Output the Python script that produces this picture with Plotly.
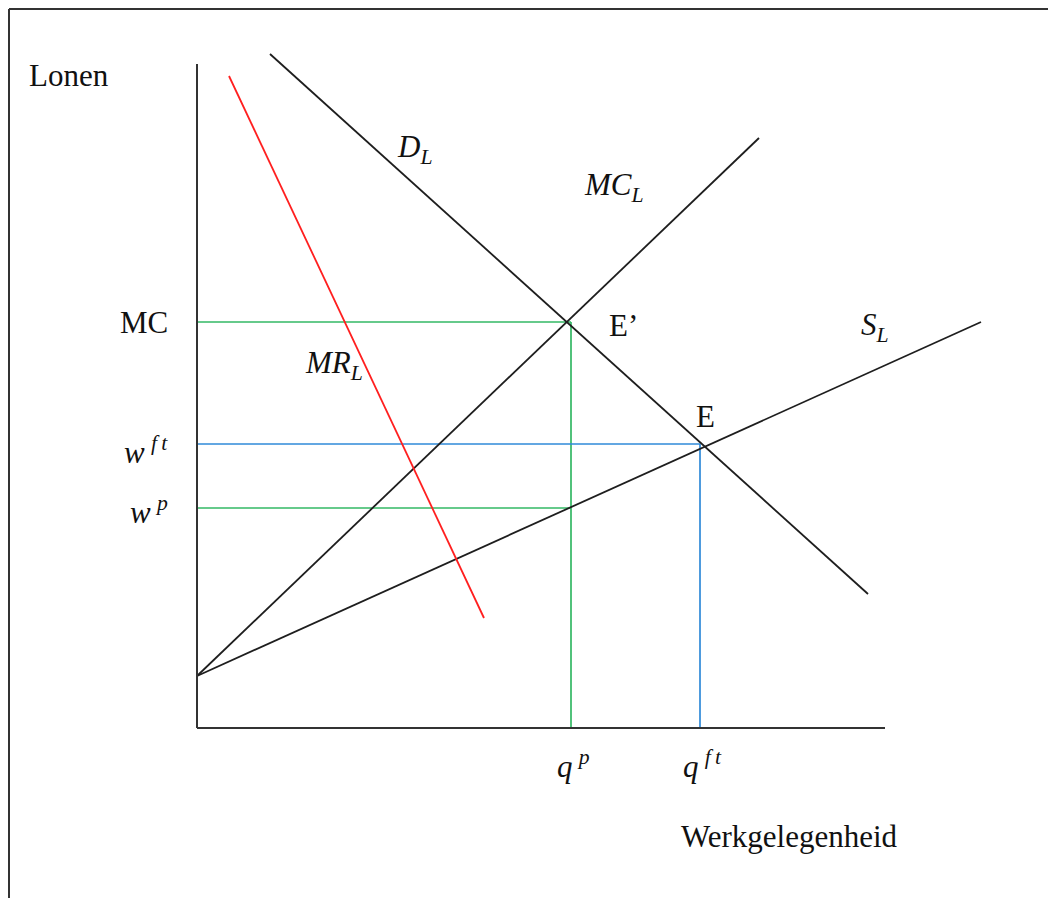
import plotly.graph_objects as go

# ---- data (coordinates in chart units: x = employment, y = wage) ----
supply_x = [0, 784]          # S_L
supply_y = [52, 406]
mc_x = [0, 562]              # MC_L
mc_y = [52, 590]
demand_x = [73, 671]         # D_L
demand_y = [674, 134]
mr_x = [32, 287]             # MR_L
mr_y = [652, 110]

q_p, q_ft = 374, 503
w_mc, w_ft, w_p = 406, 284, 220

y_ticks = [w_mc, w_ft, w_p]
y_tick_labels = ["MC",
                 "<i>w</i>\u2009<sup><i>f\u2009t</i></sup>",
                 "<i>w</i>\u2009<sup><i>p</i></sup>"]
x_ticks = [q_p, q_ft]
x_tick_labels = ["<i>q</i>\u2009<sup><i>p</i></sup>",
                 "<i>q</i>\u2009<sup><i>f\u2009t</i></sup>"]

axis_top = 664
axis_right = 688

BLACK = "#1e1e1e"
GREEN = "#33b864"
BLUE = "#2f8ad8"
RED = "#ff1f1f"
SERIF = "Liberation Serif"

fig = go.Figure()

def line(x, y, color, width=1.8):
    fig.add_trace(go.Scatter(x=x, y=y, mode="lines",
                             line=dict(color=color, width=width),
                             hoverinfo="skip", showlegend=False))

# guide lines
line([0, q_p], [w_mc, w_mc], GREEN, 1.7)
line([q_p, q_p], [0, w_mc], GREEN, 1.7)
line([0, q_p], [w_p, w_p], GREEN, 1.7)
line([0, q_ft], [w_ft, w_ft], BLUE, 1.7)
line([q_ft, q_ft], [0, w_ft], BLUE, 1.7)

# curves
line(supply_x, supply_y, BLACK)
line(mc_x, mc_y, BLACK)
line(demand_x, demand_y, BLACK)
line(mr_x, mr_y, RED)

# axes
line([0, 0], [0, axis_top], "#333333", 2)
line([0, axis_right], [0, 0], "#333333", 2)

FS = 31
MS = 31
ann = []
def txt(x, y, t, xanchor="center", size=FS):
    ann.append(dict(x=x, y=y, text=t, showarrow=False, xanchor=xanchor,
                    yanchor="middle", font=dict(family=SERIF, size=size, color="#111111")))

# axis titles
txt(-170, 653, "Lonen", xanchor="left")
txt(592, -108, "Werkgelegenheid")

# tick-like labels
y_label_offsets = [0, -6, -2]
for v, lab, off in zip(y_ticks, y_tick_labels, y_label_offsets):
    txt(-27, v + off, lab, xanchor="right")
for v, lab in zip(x_ticks, x_tick_labels):
    txt(v + 2, -36, lab)

# curve labels
txt(217, 579, "<i>D</i><sub><i>L</i></sub>", size=MS)
txt(417, 541, "<i>MC</i><sub><i>L</i></sub>", size=MS)
txt(137, 363, "<i>MR</i><sub><i>L</i></sub>", size=MS)
txt(678, 401, "<i>S</i><sub><i>L</i></sub>", size=MS)
txt(426, 403, "E\u2019")
txt(508, 312, "E")

fig.update_layout(
    width=1056, height=898,
    margin=dict(l=0, r=0, t=0, b=0),
    paper_bgcolor="white", plot_bgcolor="white",
    xaxis=dict(range=[-189, 867], visible=False, fixedrange=True),
    yaxis=dict(range=[-178, 720], visible=False, fixedrange=True),
    annotations=ann,
    shapes=[
        dict(type="line", xref="x", yref="y", x0=-188, x1=867, y0=719, y1=719,
             line=dict(color="#333333", width=2)),
        dict(type="line", xref="x", yref="y", x0=-188, x1=-188, y0=719, y1=-178,
             line=dict(color="#333333", width=2)),
    ],
)

fig.write_html("out.html")
